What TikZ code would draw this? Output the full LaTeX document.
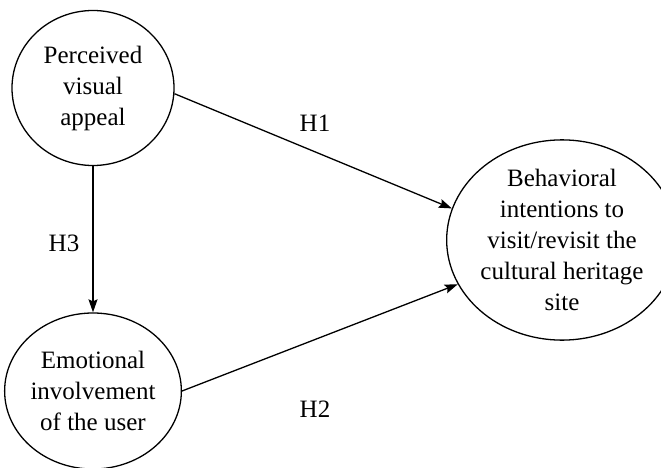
\documentclass[tikz,border=0pt]{standalone}
\usepackage{fontspec}
\setmainfont{Liberation Serif}
\usetikzlibrary{arrows.meta,shapes.geometric}
\tikzset{
	construct/.style={draw, ellipse, line width=1.3pt, inner sep=0pt, align=center, font=\fontsize{25}{31}\selectfont},
	hyplabel/.style={font=\fontsize{25}{31}\selectfont},
	path/.style={line width=1.3pt, -{Stealth[length=13pt,width=9pt,inset=2pt]}}
}

\begin{document}
\begin{tikzpicture}[x=1pt, y=-1pt]
		%%%%% START %%%%%
		
		\useasboundingbox (0, 0) rectangle (661, 468);
		
		\node[construct, minimum width=162pt, minimum height=155pt] (appeal) at (93, 88) {Perceived\\visual\\appeal};
		\node[construct, minimum width=165pt, minimum height=156pt] (involve) at (93, 391) {Emotional\\involvement\\of the user};
		\node[construct, minimum width=197pt, minimum height=194pt] (intent) at (562, 240) {Behavioral\\intentions to\\visit/revisit the\\cultural heritage\\site};
		
		\draw[path] (appeal.-4) -- (intent.164);
		\draw[path] (involve.0) -- (intent.-157);
		\draw[path] (appeal.south) -- (involve.north);
		
		\node[hyplabel] (h1) at (315, 123) {H1};
		\node[hyplabel] (h2) at (315, 409) {H2};
		\node[hyplabel] (h3) at (64, 243) {H3};
		
		%%%%% END %%%%%
	\end{tikzpicture}
\end{document}
